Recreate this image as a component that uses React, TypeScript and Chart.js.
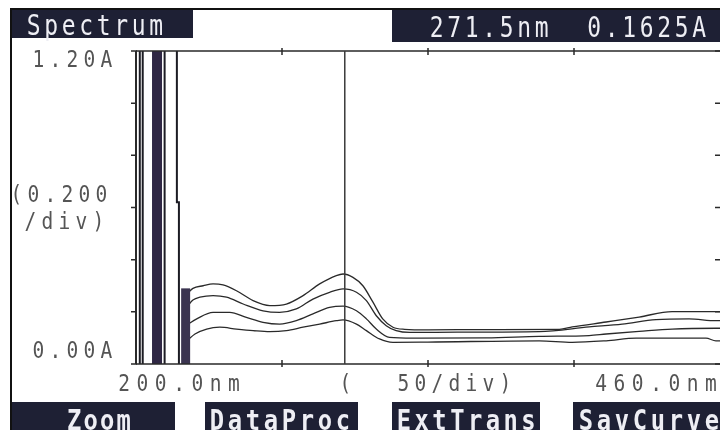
import { useEffect, useRef } from "react";
import { Chart, registerables } from "chart.js";

Chart.register(...registerables);

// ---- axis ranges / labels ----
const xMin = 200;
const xMax = 400; // visible part of the screen (nm)
const yMin = 0;
const yMax = 1.2;
const yTickValues = [0, 0.2, 0.4, 0.6, 0.8, 1.0, 1.2];
const xTickValues = [250, 300, 350];
const cursorNm = 271.5;

const headerTitle = "Spectrum";
const readout = "271.5nm  0.1625A";
const yTopLabel = "1.20A";
const yBottomLabel = "0.00A";
const yDivLabel1 = "(0.200";
const yDivLabel2 = "/div)";
const xStartLabel = "200.0nm";
const xDivOpen = "(";
const xDivLabel = "50/div)";
const xEndLabel = "460.0nm";
const buttonLabels = ["Zoom", "DataProc", "ExtTrans", "SavCurve"];

// ---- saturated region (off-scale absorbance, drawn as vertical traces) ----
const saturatedLinesNm = [201.3, 202.3, 209.8];
const saturatedBandNm = 207.2;
const stepUpperNm = 214.0;
const stepLowerNm = 214.7;
const stepA = 0.62;
const noiseNm = 217.0;
const noiseTopA = 0.29;

// ---- spectra ----
const curve1Nm = [217.5, 219.5, 223.0, 226.4, 229.8, 234.4, 240.1, 245.8, 251.5, 257.2, 262.9, 268.6, 270.9, 274.3, 277.7, 281.1, 284.5, 288.0, 292.0, 300, 320, 345, 349.4, 361.0, 372.3, 383.6, 398.6, 400];
const curve1A = [0.27, 0.29, 0.3, 0.307, 0.303, 0.281, 0.243, 0.224, 0.23, 0.262, 0.307, 0.339, 0.345, 0.332, 0.3, 0.238, 0.173, 0.141, 0.133, 0.131, 0.132, 0.133, 0.142, 0.161, 0.18, 0.201, 0.201, 0.201];

const curve2Nm = [217.5, 219.5, 221.9, 226.4, 231.0, 236.7, 243.5, 249.2, 254.9, 260.6, 266.3, 270.9, 275.5, 278.9, 282.3, 285.7, 289.1, 293.7, 310, 338.1, 355.2, 366.5, 378.1, 389.4, 398.6, 400];
const curve2A = [0.22, 0.245, 0.256, 0.262, 0.256, 0.23, 0.204, 0.198, 0.211, 0.249, 0.275, 0.288, 0.275, 0.243, 0.185, 0.147, 0.128, 0.121, 0.122, 0.124, 0.142, 0.153, 0.17, 0.173, 0.166, 0.166];

const curve3Nm = [217.5, 220.8, 226.4, 232.1, 237.8, 243.5, 249.2, 254.9, 260.6, 266.3, 270.9, 275.5, 278.9, 282.3, 286.8, 295, 320, 338.1, 355.2, 361.0, 372.3, 383.6, 398.6, 400];
const curve3A = [0.15, 0.173, 0.198, 0.198, 0.179, 0.16, 0.153, 0.166, 0.192, 0.217, 0.222, 0.204, 0.173, 0.134, 0.102, 0.099, 0.1, 0.106, 0.109, 0.115, 0.125, 0.134, 0.137, 0.137];

const curve4Nm = [217.5, 220.2, 224.2, 228.7, 234.4, 240.1, 245.8, 251.5, 257.2, 262.9, 268.6, 270.9, 275.5, 278.9, 283.4, 288.0, 300, 338.1, 349.4, 361.0, 371.3, 395.2, 398.6, 400];
const curve4A = [0.09, 0.115, 0.134, 0.141, 0.134, 0.128, 0.124, 0.128, 0.141, 0.153, 0.166, 0.169, 0.153, 0.128, 0.096, 0.083, 0.084, 0.089, 0.083, 0.089, 0.099, 0.099, 0.089, 0.089];

const MONO = '"DejaVu Sans Mono", "Liberation Mono", monospace';
const BOX = "#1e2034";
const INK = "#2a2a2a";
const LABEL = "#555555";

function pairs(xs: number[], ys: number[]) {
  return xs.map((x, i) => ({ x, y: ys[i] }));
}

function vline(x: number, y0: number, y1: number) {
  return [
    { x, y: y0 },
    { x, y: y1 },
  ];
}

function monoText(
  ctx: CanvasRenderingContext2D,
  text: string,
  left: number,
  baseline: number,
  pitch: number,
  font: string,
  color: string,
  scaleX = 0.85
) {
  ctx.save();
  ctx.font = font;
  ctx.fillStyle = color;
  ctx.textAlign = "center";
  ctx.textBaseline = "alphabetic";
  for (let i = 0; i < text.length; i++) {
    const cx = left + i * pitch + pitch / 2;
    ctx.save();
    ctx.translate(cx, baseline);
    ctx.scale(scaleX, 1);
    ctx.fillText(text[i], 0, 0);
    ctx.restore();
  }
  ctx.restore();
}

const screenPlugin = {
  id: "screen",
  beforeDraw(chart: any) {
    const ctx = chart.ctx as CanvasRenderingContext2D;
    ctx.save();
    ctx.fillStyle = "#ffffff";
    ctx.fillRect(0, 0, chart.width, chart.height);
    ctx.restore();
  },
  afterDraw(chart: any) {
    const ctx = chart.ctx as CanvasRenderingContext2D;
    const xs = chart.scales.x;
    const ys = chart.scales.y;
    const { left, right, top, bottom } = chart.chartArea;

    ctx.save();
    // frame of the photographed screen
    ctx.fillStyle = "#111";
    ctx.fillRect(10, 8, chart.width - 10, 2);
    ctx.fillRect(10, 8, 2, chart.height - 8);

    // header boxes
    ctx.fillStyle = BOX;
    ctx.fillRect(12, 10, 181, 28);
    ctx.fillRect(392, 10, chart.width - 392, 32);
    monoText(ctx, headerTitle, 25, 35, 17.5, `28px ${MONO}`, "#eeeef4", 0.82);
    monoText(ctx, readout, 428, 37, 17.5, `28px ${MONO}`, "#eeeef4", 0.82);

    // plot frame
    ctx.strokeStyle = INK;
    ctx.lineWidth = 2;
    ctx.beginPath();
    ctx.moveTo(left, top);
    ctx.lineTo(left, bottom);
    ctx.stroke();
    ctx.lineWidth = 1.5;
    ctx.beginPath();
    ctx.moveTo(left, top);
    ctx.lineTo(right, top);
    ctx.moveTo(left, bottom);
    ctx.lineTo(right, bottom);
    ctx.stroke();

    // y ticks (left outside, right inside)
    yTickValues.forEach((v) => {
      const py = ys.getPixelForValue(v);
      ctx.beginPath();
      ctx.moveTo(left - 5, py);
      ctx.lineTo(left + 1, py);
      ctx.moveTo(right - 5, py);
      ctx.lineTo(right, py);
      ctx.stroke();
    });
    // x ticks
    xTickValues.forEach((v) => {
      const px = xs.getPixelForValue(v);
      ctx.beginPath();
      ctx.moveTo(px, top - 3);
      ctx.lineTo(px, top + 4);
      ctx.moveTo(px, bottom - 4);
      ctx.lineTo(px, bottom + 3);
      ctx.stroke();
    });

    // cursor
    const cx = xs.getPixelForValue(cursorNm);
    ctx.strokeStyle = "#3a3a3a";
    ctx.lineWidth = 1.5;
    ctx.beginPath();
    ctx.moveTo(cx, top);
    ctx.lineTo(cx, bottom);
    ctx.stroke();

    // axis labels
    const lf = `23px ${MONO}`;
    monoText(ctx, yTopLabel, 30, 67, 17, lf, LABEL);
    monoText(ctx, yDivLabel1, 8, 202, 17, lf, LABEL);
    monoText(ctx, yDivLabel2, 22, 229, 17, lf, LABEL);
    monoText(ctx, yBottomLabel, 30, 358, 17, lf, LABEL);
    monoText(ctx, xStartLabel, 115, 391, 18.3, lf, LABEL);
    monoText(ctx, xDivOpen, 337, 391, 17, lf, LABEL);
    monoText(ctx, xDivLabel, 395, 391, 17, lf, LABEL);
    monoText(ctx, xEndLabel, 592, 391, 18.3, lf, LABEL);

    // soft keys
    const boxes = [
      [12, 175, 66, 16.5],
      [205, 358, 208, 18],
      [392, 540, 395, 17.8],
      [573, chart.width, 577, 18],
    ];
    buttonLabels.forEach((t, i) => {
      const [x0, x1, tx, p] = boxes[i];
      ctx.fillStyle = BOX;
      ctx.fillRect(x0, 402, x1 - x0, chart.height - 402);
      monoText(ctx, t, tx, 430, p, `bold 28px ${MONO}`, "#eeeef4", 0.85);
    });
    ctx.restore();
  },
};

export default function App() {
  const canvasRef = useRef<HTMLCanvasElement | null>(null);

  useEffect(() => {
    const canvas = canvasRef.current;
    if (!canvas) return;

    const traceStyle = {
      borderColor: INK,
      borderWidth: 1.3,
      pointRadius: 0,
      fill: false,
      cubicInterpolationMode: "monotone" as const,
    };

    const datasets: any[] = [
      ...saturatedLinesNm.map((nm) => ({
        data: vline(nm, yMin, yMax),
        borderColor: "#1c1c24",
        borderWidth: 2,
        pointRadius: 0,
      })),
      {
        data: vline(saturatedBandNm, yMin, yMax),
        borderColor: "#2f2744",
        borderWidth: 10,
        pointRadius: 0,
      },
      {
        data: [
          { x: stepUpperNm, y: yMax },
          { x: stepUpperNm, y: stepA },
          { x: stepLowerNm, y: stepA },
          { x: stepLowerNm, y: yMin },
        ],
        borderColor: "#1c1c24",
        borderWidth: 2,
        pointRadius: 0,
      },
      {
        data: vline(noiseNm, yMin, noiseTopA),
        borderColor: "#3b3450",
        borderWidth: 9,
        pointRadius: 0,
      },
      { data: pairs(curve1Nm, curve1A), ...traceStyle },
      { data: pairs(curve2Nm, curve2A), ...traceStyle },
      { data: pairs(curve3Nm, curve3A), ...traceStyle },
      { data: pairs(curve4Nm, curve4A), ...traceStyle },
    ];

    const chart = new Chart(canvas, {
      type: "line",
      data: { datasets },
      options: {
        animation: false,
        responsive: false,
        devicePixelRatio: 1,
        layout: { padding: { left: 136, top: 51, right: 0, bottom: 66 } },
        scales: {
          x: { type: "linear", min: xMin, max: xMax, display: false },
          y: { type: "linear", min: yMin, max: yMax, display: false },
        },
        plugins: {
          legend: { display: false },
          tooltip: { enabled: false },
          title: { display: false },
        },
        elements: { line: { tension: 0 } },
      },
      plugins: [screenPlugin],
    });

    return () => chart.destroy();
  }, []);

  return (
    <div style={{ position: "fixed", left: 0, top: 0, width: 720, height: 430, overflow: "hidden", background: "#fff" }}>
      <canvas ref={canvasRef} width={720} height={430} style={{ display: "block" }} />
    </div>
  );
}
